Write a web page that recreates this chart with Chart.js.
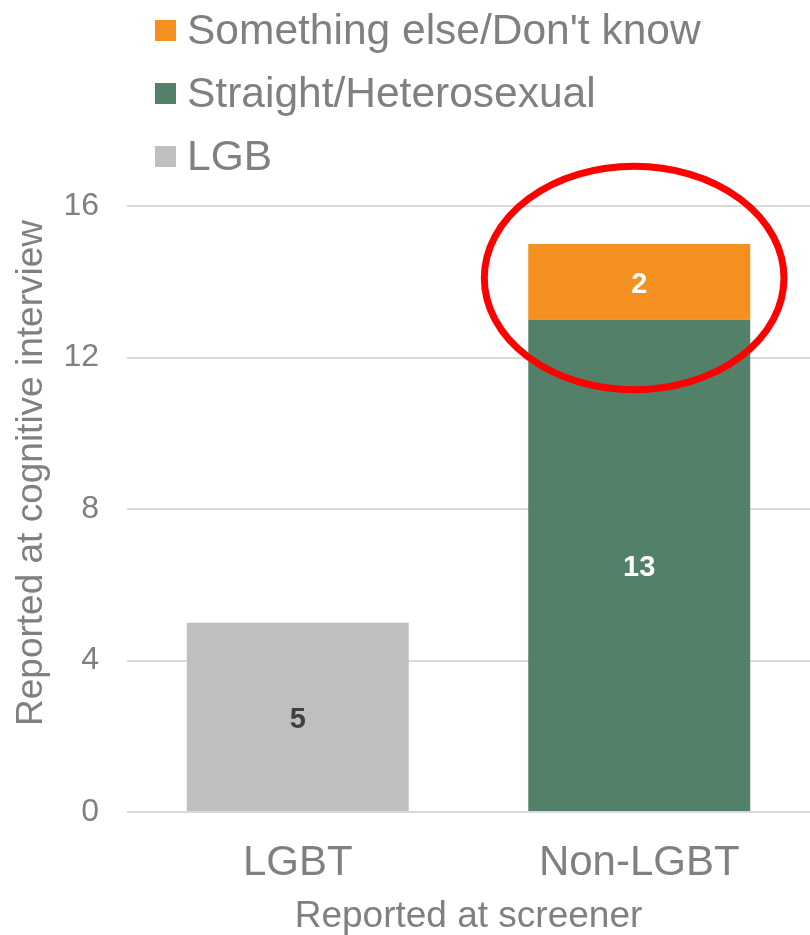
<!DOCTYPE html>
<html>
<head>
<meta charset="utf-8">
<script src="https://cdn.jsdelivr.net/npm/chart.js@4.4.0/dist/chart.umd.min.js"></script>
<style>
html, body { margin: 0; padding: 0; background: #fff; }
</style>
</head>
<body>
<canvas id="myChart" width="810" height="935"></canvas>
<script>
// data
var categories = ['LGBT', 'Non-LGBT'];
var lgb = [5, null];
var straight = [null, 13];
var somethingElse = [null, 2];
var yTicks = [0, 4, 8, 12, 16];

var grey = '#808080';
var yTitle = 'Reported at cognitive interview';
Chart.defaults.font.family = '"Liberation Sans", Arial, sans-serif';

// legend drawn as a stacked list top-left, last series first
var stackLegend = {
  id: 'stackLegend',
  afterDraw: function(chart) {
    var ctx = chart.ctx;
    var sets = chart.data.datasets.slice().reverse();
    ctx.save();
    ctx.font = '42.5px "Liberation Sans", Arial, sans-serif';
    ctx.textBaseline = 'middle';
    sets.forEach(function(ds, i) {
      var y = 30 + i * 63;
      ctx.fillStyle = ds.backgroundColor;
      ctx.fillRect(155, y - 10, 21, 21);
      ctx.fillStyle = grey;
      ctx.fillText(ds.label, 187, y + 2);
    });
    // y axis title sits a bit above the middle of the plot, like the original
    ctx.font = '37px "Liberation Sans", Arial, sans-serif';
    ctx.textAlign = 'center';
    ctx.translate(32, 473);
    ctx.rotate(-Math.PI / 2);
    ctx.fillText(yTitle, 0, 0);
    ctx.restore();
  }
};

// numbers in the middle of each segment
var segLabels = {
  id: 'segLabels',
  afterDatasetsDraw: function(chart) {
    var ctx = chart.ctx;
    ctx.save();
    ctx.font = 'bold 29px "Liberation Sans", Arial, sans-serif';
    ctx.textAlign = 'center';
    ctx.textBaseline = 'middle';
    chart.data.datasets.forEach(function(ds, i) {
      var meta = chart.getDatasetMeta(i);
      meta.data.forEach(function(bar, j) {
        var v = ds.data[j];
        if (!v) return;
        var p = bar.getProps(['x', 'y', 'base'], true);
        ctx.fillStyle = ds.labelColor;
        ctx.fillText(v, p.x, (p.y + p.base) / 2 + 3);
      });
    });
    ctx.restore();
  }
};

// red ring around the top of the Non-LGBT bar
var ring = { index: 1, center: 14.1, halfSpan: 2.95, widthRatio: 0.675, shift: -0.023 };
var ringPlugin = {
  id: 'ringPlugin',
  afterDatasetsDraw: function(chart) {
    var ctx = chart.ctx;
    var bar = chart.getDatasetMeta(2).data[ring.index];
    var w = bar.getProps(['width'], true).width;
    var ys = chart.scales.y;
    var cx = bar.x + ring.shift * w;
    var cy = ys.getPixelForValue(ring.center);
    var ry = cy - ys.getPixelForValue(ring.center + ring.halfSpan);
    ctx.save();
    ctx.strokeStyle = '#ff0000';
    ctx.lineWidth = 7;
    ctx.beginPath();
    ctx.ellipse(cx, cy, ring.widthRatio * w, ry, 0, 0, Math.PI * 2);
    ctx.stroke();
    ctx.restore();
  }
};

var ctx = document.getElementById('myChart').getContext('2d');
var myChart = new Chart(ctx, {
  type: 'bar',
  data: {
    labels: categories,
    datasets: [{
      label: 'LGB',
      data: lgb,
      backgroundColor: '#bfbfbf',
      labelColor: '#404040'
    }, {
      label: 'Straight/Heterosexual',
      data: straight,
      backgroundColor: '#538068',
      labelColor: '#ffffff'
    }, {
      label: 'Something else/Don\'t know',
      data: somethingElse,
      backgroundColor: '#f3901f',
      labelColor: '#ffffff'
    }]
  },
  options: {
    responsive: false,
    animation: false,
    layout: { padding: { top: 206, left: 10, right: 0, bottom: 0 } },
    datasets: { bar: { barPercentage: 0.65, categoryPercentage: 1 } },
    plugins: {
      legend: { display: false },
      tooltip: { enabled: false }
    },
    scales: {
      x: {
        stacked: true,
        grid: { display: false },
        border: { display: false },
        ticks: { color: grey, font: { size: 42 }, padding: 18 },
        title: {
          display: true,
          text: 'Reported at screener',
          color: grey,
          font: { size: 37, lineHeight: 1 },
          padding: { top: 0, bottom: 0 }
        },
        afterFit: function(axis) { axis.height = 123; }
      },
      y: {
        stacked: true,
        min: yTicks[0],
        max: yTicks[yTicks.length - 1],
        afterBuildTicks: function(axis) {
          axis.ticks = yTicks.map(function(v) { return { value: v }; });
        },
        grid: { color: '#d9d9d9', lineWidth: 2, drawTicks: false },
        border: { display: false },
        ticks: { color: grey, font: { size: 32 }, padding: 28 },
        afterFit: function(axis) { axis.width = 117; }
      }
    }
  },
  plugins: [segLabels, ringPlugin, stackLegend]
});
</script>
</body>
</html>
